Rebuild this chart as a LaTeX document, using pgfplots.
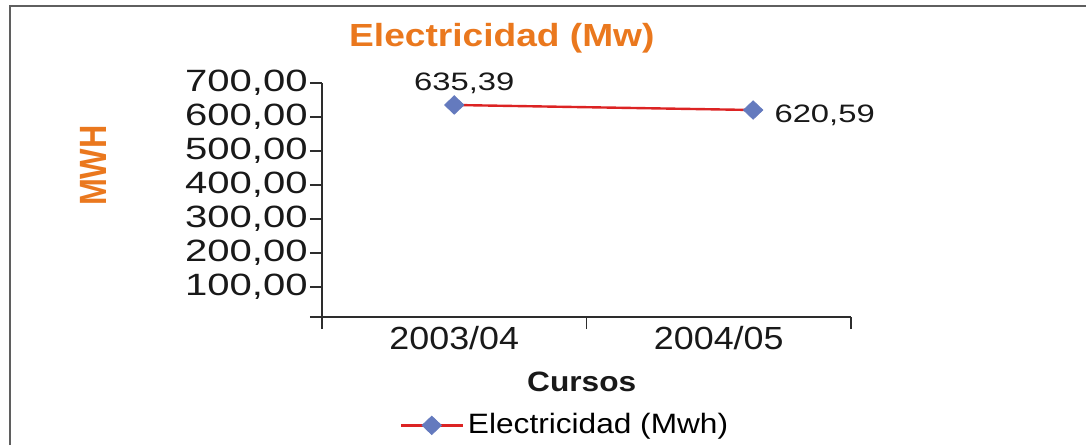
\documentclass[border=0pt]{standalone}
\usepackage{pgfplots}
\pgfplotsset{compat=1.18}
\usepackage{fontspec}
\setmainfont{Liberation Sans}
\newfontfamily\fTick[FakeStretch=1.3]{Liberation Sans}
\newfontfamily\fCat[FakeStretch=1.12]{Liberation Sans}
\newfontfamily\fTitle[FakeStretch=1.16]{Liberation Sans}
\newfontfamily\fLab[FakeStretch=1.13]{Liberation Sans}
\newfontfamily\fY[FakeStretch=0.85]{Liberation Sans}
\definecolor{orng}{RGB}{234,120,30}
\definecolor{lred}{RGB}{220,35,35}
\definecolor{mblue}{RGB}{100,122,190}
\definecolor{axgray}{RGB}{45,45,45}
\definecolor{frame}{RGB}{95,95,95}
\begin{document}
\begin{tikzpicture}
\useasboundingbox (0,0) rectangle (543pt,-222.5pt);
\draw[line width=1pt, frame] (5pt,-222.5pt) -- (5pt,-3pt) -- (543pt,-3pt);
\begin{axis}[
  at={(161pt,-158.5pt)}, anchor=south west,
  scale only axis, width=264.5pt, height=117pt,
  xmin=0, xmax=2, ymin=12, ymax=700,
  axis x line*=bottom, axis y line*=left,
  xtick={0,1,2}, xticklabels={2003/04,2004/05}, x tick label as interval,
  ytick={100,200,...,700},
  yticklabels={{100,00},{200,00},{300,00},{400,00},{500,00},{600,00},{700,00}},
  extra y ticks={12}, extra y tick labels={},
  tick align=outside, major tick length=6pt,
  tick style={axgray, line width=0.6pt},
  axis line style={axgray, line width=0.6pt},
  xticklabel style={font=\fCat\fontsize{16}{18}\selectfont, text=black!90, yshift=5pt},
  yticklabel style={font=\fTick\fontsize{15.4}{17}\selectfont, text=black!90, inner sep=1pt},
  title={Electricidad (Mw)},
  title style={at={(axis description cs:0.34,1.204)}, anchor=center, yshift=-7.5pt,
    font=\fTitle\bfseries\fontsize{16}{18}\selectfont, text=orng},
  ylabel={MWH},
  ylabel style={at={(axis description cs:-0.433,0.647)}, anchor=center,
    font=\fY\bfseries\fontsize{19}{21}\selectfont, text=orng},
  xlabel={Cursos},
  xlabel style={at={(axis description cs:0.491,-0.278)}, anchor=center,
    font=\fLab\bfseries\fontsize{14}{16}\selectfont, text=black!90},
  legend style={at={(axis description cs:0.461,-0.463)}, anchor=center,
    draw=none, fill=none, font=\fLab\fontsize{14}{16}\selectfont},
  legend image code/.code={\draw[mark repeat=2,mark phase=2,#1] plot coordinates {(-1.5pt,0pt) (14pt,0pt) (29.5pt,0pt)};},
  clip=false,
]
\addplot[lred, line width=1.2pt, mark=diamond*, mark size=4.6pt,
  mark options={draw=mblue, fill=mblue, xscale=1.4, solid, line width=0.4pt}]
  coordinates {(0.5,635.39) (1.63,620.59)};
\addlegendentry{Electricidad (Mwh)}
\addplot[draw=none, mark=none, forget plot, nodes near coords, point meta=explicit symbolic,
  every node near coord/.append style={anchor=south, inner sep=0pt, xshift=5pt, yshift=5.5pt,
    font=\fTick\fontsize{12.6}{14}\selectfont, text=black!90}]
  table[meta=label] {
x y label
0.5 635.39 635,39
};
\addplot[draw=none, mark=none, forget plot, nodes near coords, point meta=explicit symbolic,
  every node near coord/.append style={anchor=west, inner sep=0pt, xshift=10.5pt, yshift=-2.5pt,
    font=\fTick\fontsize{12.6}{14}\selectfont, text=black!90}]
  table[meta=label] {
x y label
1.63 620.59 620,59
};
\end{axis}
\end{tikzpicture}
\end{document}
